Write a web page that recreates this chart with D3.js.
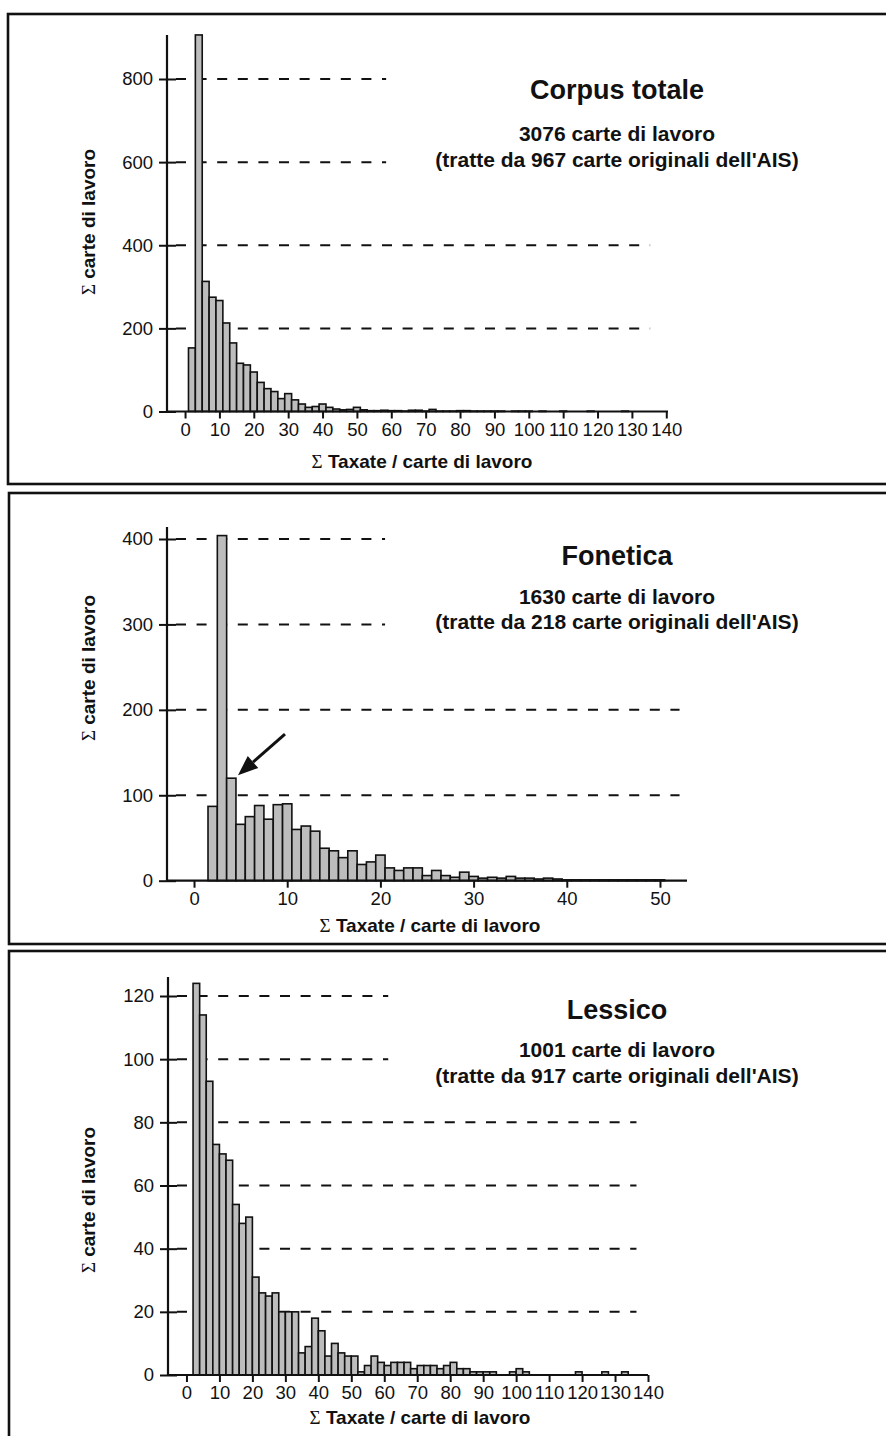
<!DOCTYPE html>
<html>
<head>
<meta charset="utf-8">
<script src="https://cdn.jsdelivr.net/npm/d3@7"></script>
<style>
  body { margin: 0; background: #fff; }
  svg { display: block; }
  text { font-family: "Liberation Sans", Arial, Helvetica, sans-serif; fill: #111; }
</style>
</head>
<body>
<svg id="chart" width="886" height="1436"></svg>
<script>
// --- Corpus totale: bins of 2 taxate, first bin 1-3 ---
const corpusBinStart = 1, corpusBinWidth = 2;
const corpusCounts = [
  153, 906, 313, 275, 267, 213, 165, 116, 112, 95,
  70, 55, 48, 31, 43, 28, 18, 10, 12, 18,
  10, 6, 4, 5, 10, 4, 2, 2, 3, 2,
  2, 1, 3, 3, 1, 5, 1, 1, 1, 2,
  2, 1, 1, 1, 1, 1, 0, 1, 1, 1,
  0, 1, 0, 0, 1, 0, 0, 0, 1, 0,
  0, 0, 0, 1, 0, 0, 0
];
const corpusXTicks = [0, 10, 20, 30, 40, 50, 60, 70, 80, 90, 100, 110, 120, 130, 140];
const corpusYTicks = [0, 200, 400, 600, 800];

// --- Fonetica: bins of 1 taxata, first bin centred on 2 ---
const foneticaBinStart = 1.5, foneticaBinWidth = 1;
const foneticaCounts = [
  87, 404, 120, 66, 75, 88, 72, 89, 90, 60,
  64, 58, 38, 35, 27, 35, 19, 22, 30, 15,
  12, 15, 15, 6, 12, 6, 4, 10, 5, 3,
  4, 3, 5, 3, 3, 2, 3, 2, 1, 1,
  1, 1, 1, 1, 1, 1, 1, 1, 1
];
const foneticaXTicks = [0, 10, 20, 30, 40, 50];
const foneticaYTicks = [0, 100, 200, 300, 400];

// --- Lessico: bins of 2 taxate, first bin 2-4 ---
const lessicoBinStart = 2, lessicoBinWidth = 2;
const lessicoCounts = [
  124, 114, 93, 73, 70, 68, 54, 48, 50, 31,
  26, 25, 26, 20, 20, 20, 7, 9, 18, 14,
  6, 10, 7, 6, 6, 1, 3, 6, 4, 3,
  4, 4, 4, 2, 3, 3, 3, 2, 3, 4,
  2, 2, 1, 1, 1, 1, 0, 0, 1, 2,
  1, 0, 0, 0, 0, 0, 0, 0, 1, 0,
  0, 0, 1, 0, 0, 1, 0
];
const lessicoXTicks = [0, 10, 20, 30, 40, 50, 60, 70, 80, 90, 100, 110, 120, 130, 140];
const lessicoYTicks = [0, 20, 40, 60, 80, 100, 120];

const titles = ["Corpus totale", "Fonetica", "Lessico"];
const subtitles1 = ["3076 carte di lavoro", "1630 carte di lavoro", "1001 carte di lavoro"];
const subtitles2 = [
  "(tratte da 967 carte originali dell'AIS)",
  "(tratte da 218 carte originali dell'AIS)",
  "(tratte da 917 carte originali dell'AIS)"
];

const svg = d3.select("#chart");

// layout of each framed panel
const panels = [
  {
    counts: corpusCounts, start: corpusBinStart, width: corpusBinWidth,
    xTicks: corpusXTicks, yTicks: corpusYTicks,
    frame: [8, 14, 900, 484],
    xDomain: [-5.25, 140.5], xRange: [167, 668],
    yDomain: [0, 800], yRange: [411.5, 79], yTop: 906,
    gridEnd: { 800: 58.5, 600: 58.5, 400: 135.3, 200: 135.3 },
    titleX: 617, titleY: [90, 134, 160],
    yLabel: [88, 222], xLabel: [422, 461]
  },
  {
    counts: foneticaCounts, start: foneticaBinStart, width: foneticaBinWidth,
    xTicks: foneticaXTicks, yTicks: foneticaYTicks,
    frame: [9, 493, 900, 944],
    xDomain: [-2.9, 52.9], xRange: [167, 687],
    yDomain: [0, 400], yRange: [880.7, 539], yTop: 414,
    gridEnd: { 400: 20.5, 300: 20.5, 200: 52.1, 100: 52.1 },
    titleX: 617, titleY: [556, 597, 622],
    yLabel: [88, 668], xLabel: [430, 925],
    arrow: { bin: 4.5, value: 120 }
  },
  {
    counts: lessicoCounts, start: lessicoBinStart, width: lessicoBinWidth,
    xTicks: lessicoXTicks, yTicks: lessicoYTicks,
    frame: [9, 951, 900, 1460],
    xDomain: [-5.6, 140], xRange: [168, 648],
    yDomain: [0, 120], yRange: [1375, 996], yTop: 126,
    gridEnd: { 120: 61.2, 100: 61.2, 80: 136.5, 60: 136.5, 40: 136.5, 20: 136.5 },
    titleX: 617, titleY: [1010, 1050, 1076],
    yLabel: [88, 1200], xLabel: [420, 1417]
  }
];

panels.forEach((p, idx) => drawPanel(p, idx));

function drawPanel(p, idx) {
  const g = svg.append("g");

  // frame
  g.append("rect")
    .attr("x", p.frame[0]).attr("y", p.frame[1])
    .attr("width", p.frame[2] - p.frame[0]).attr("height", p.frame[3] - p.frame[1])
    .attr("fill", "none").attr("stroke", "#111").attr("stroke-width", 2.6);

  const x = d3.scaleLinear().domain(p.xDomain).range(p.xRange);
  const y = d3.scaleLinear().domain(p.yDomain).range(p.yRange);
  const x0 = p.xRange[0];

  // dashed reference lines
  p.yTicks.filter(v => v > 0).forEach(v => {
    g.append("line")
      .attr("x1", x0 + 9).attr("x2", x(p.gridEnd[v]))
      .attr("y1", y(v)).attr("y2", y(v))
      .attr("stroke", "#111").attr("stroke-width", 2)
      .attr("stroke-dasharray", "10,10.6");
  });

  // bars
  const bins = p.counts.map((c, i) => ({ lo: p.start + i * p.width, count: c }))
    .filter(d => d.count > 0);
  g.selectAll("rect.bar")
    .data(bins)
    .enter()
    .append("rect")
    .attr("class", "bar")
    .attr("x", d => x(d.lo))
    .attr("width", d => x(d.lo + p.width) - x(d.lo))
    .attr("y", d => y(d.count))
    .attr("height", d => y(0) - y(d.count))
    .attr("fill", "#bdbdbd")
    .attr("stroke", "#111")
    .attr("stroke-width", 1.6);

  // x axis
  const xAxis = g.append("g")
    .attr("transform", `translate(0,${y(0)})`)
    .call(d3.axisBottom(x).tickValues(p.xTicks).tickSize(7).tickPadding(4).tickSizeOuter(0));
  xAxis.select(".domain").remove();
  xAxis.selectAll(".tick line").attr("stroke", "#111").attr("stroke-width", 2);
  xAxis.selectAll(".tick text")
    .attr("font-size", "18.5px").attr("font-family", "Liberation Sans, Arial, sans-serif")
    .attr("fill", "#111");
  g.append("line")
    .attr("x1", p.xRange[0]).attr("x2", p.xRange[1])
    .attr("y1", y(0)).attr("y2", y(0))
    .attr("stroke", "#111").attr("stroke-width", 2.2);

  // y axis
  const yAxis = g.append("g")
    .attr("transform", `translate(${x0},0)`)
    .call(d3.axisLeft(y).tickValues(p.yTicks).tickSize(8).tickPadding(6).tickSizeOuter(0));
  yAxis.select(".domain").remove();
  yAxis.selectAll(".tick line").attr("x1", 9).attr("x2", -8)
    .attr("stroke", "#111").attr("stroke-width", 2);
  yAxis.selectAll(".tick text")
    .attr("font-size", "18.5px").attr("font-family", "Liberation Sans, Arial, sans-serif")
    .attr("fill", "#111");
  g.append("line")
    .attr("x1", x0).attr("x2", x0)
    .attr("y1", y(0) + 1).attr("y2", y(p.yTop))
    .attr("stroke", "#111").attr("stroke-width", 2.2);

  // axis titles
  const yl = g.append("text")
    .attr("transform", `translate(${p.yLabel[0]},${p.yLabel[1]}) rotate(-90)`)
    .attr("text-anchor", "middle")
    .attr("dy", "0.35em")
    .attr("font-size", "19px").attr("font-weight", "bold");
  yl.append("tspan").attr("font-family", "Liberation Serif, serif").attr("font-weight", "normal").text("Σ");
  yl.append("tspan").text(" carte di lavoro");

  const xl = g.append("text")
    .attr("x", p.xLabel[0]).attr("y", p.xLabel[1])
    .attr("text-anchor", "middle")
    .attr("dy", "0.35em")
    .attr("font-size", "19px").attr("font-weight", "bold");
  xl.append("tspan").attr("font-family", "Liberation Serif, serif").attr("font-weight", "normal").text("Σ");
  xl.append("tspan").text(" Taxate / carte di lavoro");

  // title block
  g.append("text")
    .attr("x", p.titleX).attr("y", p.titleY[0]).attr("dy", "0.35em")
    .attr("text-anchor", "middle").attr("font-size", "27px").attr("font-weight", "bold")
    .text(titles[idx]);
  g.append("text")
    .attr("x", p.titleX).attr("y", p.titleY[1]).attr("dy", "0.35em")
    .attr("text-anchor", "middle").attr("font-size", "21px").attr("font-weight", "bold")
    .text(subtitles1[idx]);
  g.append("text")
    .attr("x", p.titleX).attr("y", p.titleY[2]).attr("dy", "0.35em")
    .attr("text-anchor", "middle").attr("font-size", "21px").attr("font-weight", "bold")
    .text(subtitles2[idx]);

  // arrow pointing at a bar
  if (p.arrow) {
    const tx = x(p.arrow.bin) + 2, ty = y(p.arrow.value) - 3;
    const sx = tx + 47, sy = ty - 41;
    const ang = Math.atan2(ty - sy, tx - sx);
    const L = 20, W = 8;
    const bx = tx - L * Math.cos(ang), by = ty - L * Math.sin(ang);
    g.append("line")
      .attr("x1", sx).attr("y1", sy).attr("x2", bx).attr("y2", by)
      .attr("stroke", "#111").attr("stroke-width", 3);
    g.append("path")
      .attr("d", `M${tx},${ty} L${bx - W * Math.sin(ang)},${by + W * Math.cos(ang)} L${bx + W * Math.sin(ang)},${by - W * Math.cos(ang)} Z`)
      .attr("fill", "#111");
  }
}
</script>
</body>
</html>
